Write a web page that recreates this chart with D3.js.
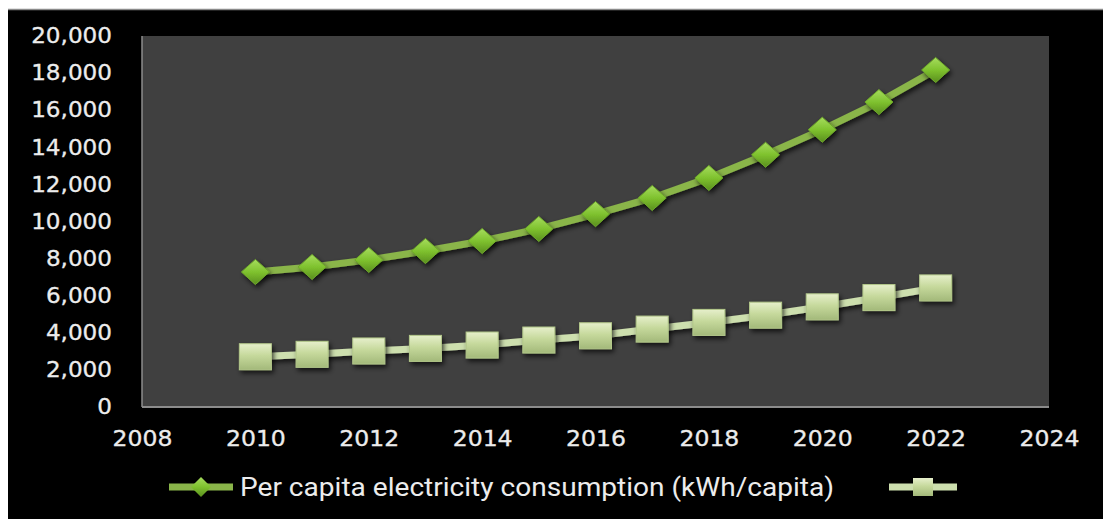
<!DOCTYPE html>
<html>
<head>
<meta charset="utf-8">
<script src="https://cdn.jsdelivr.net/npm/d3@7"></script>
<style>
  html, body { margin: 0; padding: 0; background: #fff; }
  svg { display: block; }
</style>
</head>
<body>
<div id="chart"></div>
<script>
var w = 1103;
var h = 519;

// data
var years = [2010, 2011, 2012, 2013, 2014, 2015, 2016, 2017, 2018, 2019, 2020, 2021, 2022];
var perCapita = [7280, 7550, 7930, 8410, 8950, 9600, 10400, 11270, 12350, 13600, 14950, 16440, 18170];
var secondSeries = [2710, 2840, 3020, 3160, 3340, 3610, 3840, 4200, 4560, 4950, 5400, 5900, 6420];
var xTicks = [2008, 2010, 2012, 2014, 2016, 2018, 2020, 2022, 2024];
var yTicks = [0, 2000, 4000, 6000, 8000, 10000, 12000, 14000, 16000, 18000, 20000];
var seriesNames = ["Per capita electricity consumption (kWh/capita)", ""];

var plot = {left: 142, right: 1049, top: 36, bottom: 407};

var svg = d3.select("#chart")
            .append("svg")
            .attr("width", w)
            .attr("height", h);

var defs = svg.append("defs");

var shadow = defs.append("filter")
                 .attr("id", "shadow")
                 .attr("x", "-50%").attr("y", "-50%")
                 .attr("width", "200%").attr("height", "200%");
shadow.append("feDropShadow")
      .attr("dx", 2).attr("dy", 3)
      .attr("stdDeviation", 2.5)
      .attr("flood-color", "#000")
      .attr("flood-opacity", 0.7);

var diamondGrad = defs.append("linearGradient")
                      .attr("id", "diamondGrad")
                      .attr("x1", 0).attr("y1", 0).attr("x2", 0).attr("y2", 1);
diamondGrad.append("stop").attr("offset", "0%").attr("stop-color", "#a6dc5e");
diamondGrad.append("stop").attr("offset", "50%").attr("stop-color", "#7fc22e");
diamondGrad.append("stop").attr("offset", "100%").attr("stop-color", "#5a8f1f");

var squareGrad = defs.append("linearGradient")
                     .attr("id", "squareGrad")
                     .attr("x1", 0).attr("y1", 0).attr("x2", 0).attr("y2", 1);
squareGrad.append("stop").attr("offset", "0%").attr("stop-color", "#e6efcb");
squareGrad.append("stop").attr("offset", "45%").attr("stop-color", "#c6d99c");
squareGrad.append("stop").attr("offset", "100%").attr("stop-color", "#a3b97a");

// page frame: white edge, grey rule, black chart area
svg.append("rect")
   .attr("x", 0).attr("y", 0)
   .attr("width", w).attr("height", h)
   .attr("fill", "#fff");

svg.append("rect")
   .attr("x", 8).attr("y", 9)
   .attr("width", w - 8).attr("height", h - 9)
   .attr("fill", "#000");

svg.append("line")
   .attr("x1", 8).attr("x2", w)
   .attr("y1", 9.5).attr("y2", 9.5)
   .attr("stroke", "#8a8a8a")
   .attr("stroke-width", 1.5);

svg.append("rect")
   .attr("x", plot.left).attr("y", plot.top)
   .attr("width", plot.right - plot.left)
   .attr("height", plot.bottom - plot.top)
   .attr("fill", "#404040");

var x = d3.scaleLinear()
          .domain([2008, 2024])
          .range([plot.left, plot.right]);

var y = d3.scaleLinear()
          .domain([0, 20000])
          .range([plot.bottom, plot.top]);

var stretch = function(sel, k) {
   sel.each(function() {
      var len = this.getComputedTextLength();
      d3.select(this)
        .attr("textLength", len * k)
        .attr("lengthAdjust", "spacingAndGlyphs");
   });
}

var yAxis = svg.append("g")
               .attr("transform", "translate(" + plot.left + ",0)")
               .call(d3.axisLeft(y)
                       .tickValues(yTicks)
                       .tickSize(0)
                       .tickPadding(30)
                       .tickFormat(d3.format(",")));

var xAxis = svg.append("g")
               .attr("transform", "translate(0," + plot.bottom + ")")
               .call(d3.axisBottom(x)
                       .tickValues(xTicks)
                       .tickSize(0)
                       .tickFormat(d3.format("d")));

svg.selectAll(".domain").remove();

yAxis.selectAll("text")
     .attr("fill", "#ececec")
     .attr("stroke", "#ececec")
     .attr("stroke-width", 0.3)
     .style("font-family", "'DejaVu Sans', Verdana, sans-serif")
     .style("font-size", "21px")
     .call(stretch, 1.1);

xAxis.selectAll("text")
     .attr("fill", "#ececec")
     .attr("stroke", "#ececec")
     .attr("stroke-width", 0.3)
     .attr("y", 31)
     .attr("dy", "0.36em")
     .style("font-family", "'DejaVu Sans', Verdana, sans-serif")
     .style("font-size", "21px")
     .call(stretch, 1.12);

// axis rules along left and bottom of the plot area
svg.append("line")
   .attr("x1", plot.left).attr("x2", plot.left)
   .attr("y1", plot.top).attr("y2", plot.bottom)
   .attr("stroke", "#8c8c8c").attr("stroke-width", 1.5);

svg.append("line")
   .attr("x1", plot.left).attr("x2", plot.right)
   .attr("y1", plot.bottom).attr("y2", plot.bottom)
   .attr("stroke", "#8c8c8c").attr("stroke-width", 2);

var line = function(vals) {
   return d3.line()
            .x(function(d, i) { return x(years[i]); })
            .y(function(d) { return y(d); })(vals);
}

var diamond = function(cx, cy, rw, rh) {
   return "M" + cx + "," + (cy - rh) +
          "L" + (cx + rw) + "," + cy +
          "L" + cx + "," + (cy + rh) +
          "L" + (cx - rw) + "," + cy + "Z";
}

// second series (squares)
svg.append("path")
   .attr("d", line(secondSeries))
   .attr("fill", "none")
   .attr("stroke", "#cddfae")
   .attr("stroke-width", 7)
   .attr("filter", "url(#shadow)");

svg.selectAll(".sq")
   .data(secondSeries)
   .enter()
   .append("rect")
   .attr("class", "sq")
   .attr("x", function(d, i) { return x(years[i]) - 16; })
   .attr("y", function(d) { return y(d) - 13; })
   .attr("width", 32)
   .attr("height", 26)
   .attr("fill", "url(#squareGrad)")
   .attr("stroke", "#b3c88a")
   .attr("stroke-width", 1)
   .attr("filter", "url(#shadow)");

// per capita series (diamonds)
svg.append("path")
   .attr("d", line(perCapita))
   .attr("fill", "none")
   .attr("stroke", "#8ab54a")
   .attr("stroke-width", 7)
   .attr("filter", "url(#shadow)");

svg.selectAll(".dm")
   .data(perCapita)
   .enter()
   .append("path")
   .attr("class", "dm")
   .attr("d", function(d, i) { return diamond(x(years[i]), y(d), 14, 12.5); })
   .attr("fill", "url(#diamondGrad)")
   .attr("stroke", "#6ea82a")
   .attr("stroke-width", 1)
   .attr("filter", "url(#shadow)");

// legend
var legendY = 487;

svg.append("line")
   .attr("x1", 169).attr("x2", 233)
   .attr("y1", legendY).attr("y2", legendY)
   .attr("stroke", "#8ab54a")
   .attr("stroke-width", 7);

svg.append("path")
   .attr("d", diamond(201, legendY, 10, 10))
   .attr("fill", "url(#diamondGrad)");

svg.append("text")
   .attr("x", 240)
   .attr("y", legendY)
   .attr("dy", "0.36em")
   .attr("fill", "#ececec")
   .style("font-family", "'Liberation Sans Narrow', 'Roboto', sans-serif")
   .style("font-size", "25px")
   .attr("textLength", 594)
   .attr("lengthAdjust", "spacingAndGlyphs")
   .text(seriesNames[0]);

svg.append("line")
   .attr("x1", 889).attr("x2", 957)
   .attr("y1", legendY).attr("y2", legendY)
   .attr("stroke", "#cddfae")
   .attr("stroke-width", 7);

svg.append("rect")
   .attr("x", 913).attr("y", legendY - 9)
   .attr("width", 20).attr("height", 18)
   .attr("fill", "url(#squareGrad)");
</script>
</body>
</html>
